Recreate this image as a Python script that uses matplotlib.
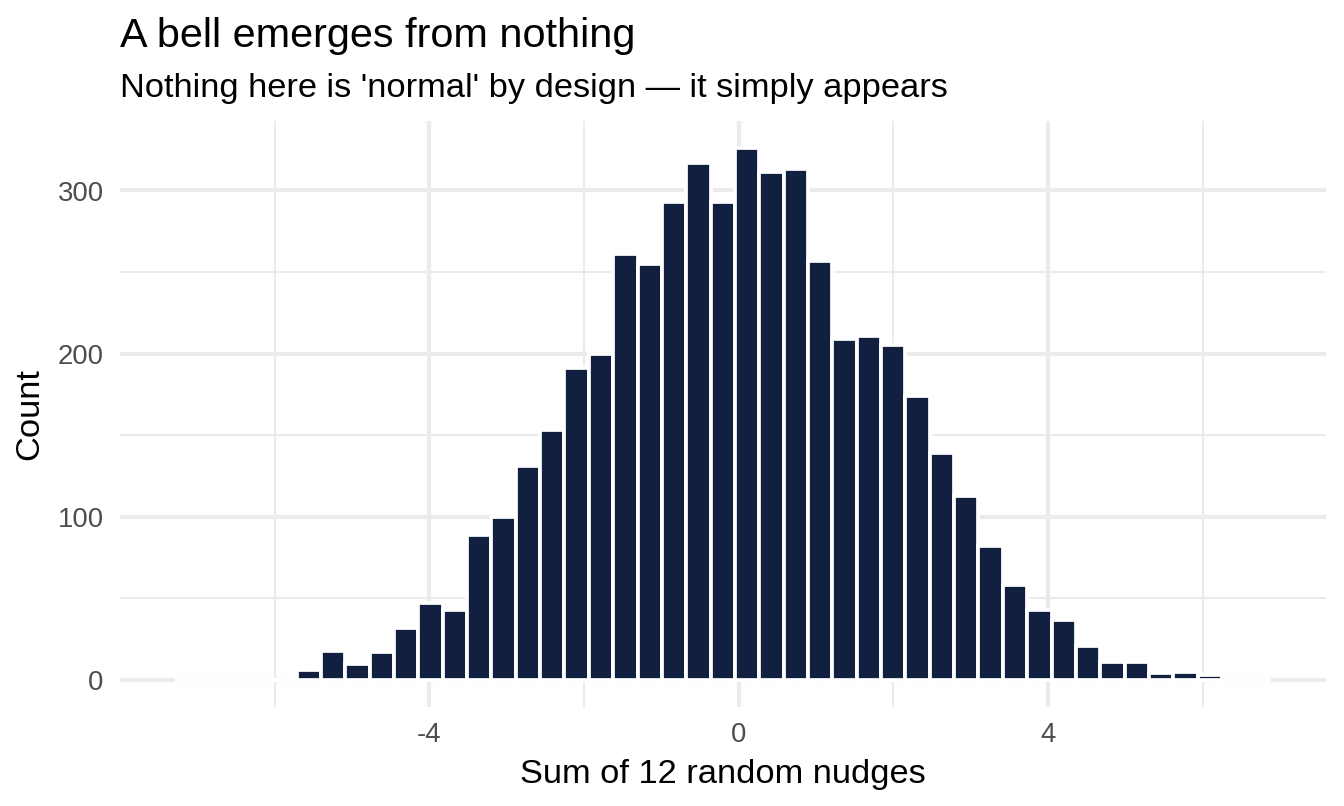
import numpy as np
import matplotlib
matplotlib.use("Agg")
import matplotlib.pyplot as plt
from matplotlib.ticker import MultipleLocator

plt.rcParams['font.family'] = ['Liberation Sans', 'DejaVu Sans']

# ---- data ----
bin_start = -7.29
bin_width = 0.3148
counts = [0, 0, 0, 0, 0,
          6, 18, 10, 17, 32, 47, 43, 89, 100, 131,
          153, 191, 200, 261, 255, 293, 317, 293, 326, 311,
          313, 257, 209, 211, 205, 174, 139, 113, 82, 58,
          43, 37, 21, 11, 11, 4, 5, 3,
          0, 0]
title = "A bell emerges from nothing"
subtitle = "Nothing here is 'normal' by design \u2014 it simply appears"
x_label = "Sum of 12 random nudges"
y_label = "Count"

counts = np.array(counts)
edges = bin_start + bin_width * np.arange(len(counts) + 1)

W, H = 1344, 806
fig = plt.figure(figsize=(7, 4.2), dpi=192)
left, right = 120 / W, 1325.5 / W
bottom, top = 1 - 706.6 / H, 1 - 121.7 / H
ax = fig.add_axes([left, bottom, right - left, top - bottom])

ax.bar(edges[:-1], counts, width=bin_width, align='edge',
       color='#111F41', edgecolor='white', linewidth=1.4, zorder=2)

span = edges[-1] - edges[0]
ax.set_xlim(edges[0] - 0.05 * span, edges[-1] + 0.05 * span)
ax.set_ylim(-0.05 * counts.max(), 1.05 * counts.max())

ax.xaxis.set_major_locator(MultipleLocator(4))
ax.xaxis.set_minor_locator(MultipleLocator(2))
ax.yaxis.set_major_locator(MultipleLocator(100))
ax.yaxis.set_minor_locator(MultipleLocator(50))

ax.set_axisbelow(True)
ax.grid(which='major', color='#EBEBEB', linewidth=1.55)
ax.grid(which='minor', color='#EBEBEB', linewidth=0.78)
for s in ax.spines.values():
    s.set_visible(False)

ax.tick_params(which='both', length=0)
ax.tick_params(axis='x', pad=5.8, labelsize=10.3, labelcolor='#4D4D4D')
ax.tick_params(axis='y', pad=6.1, labelsize=10.3, labelcolor='#4D4D4D')
ax.set_xticklabels([f"{int(t)}" for t in ax.get_xticks()])

ax.set_xlabel(x_label, fontsize=12.9, color='black')
ax.xaxis.label.set_va('baseline')
ax.xaxis.set_label_coords(0.5, (706.6 - 782.3) / 584.9)
ax.set_ylabel(y_label, fontsize=12.9, color='black')
ax.yaxis.label.set_va('center')
ax.yaxis.set_label_coords((29.5 - 120) / 1205.5, 0.5)

fig.text(120.5 / W, 1 - 46.7 / H, title, fontsize=15.5, ha='left', va='baseline', color='black')
fig.text(120.5 / W, 1 - 97.3 / H, subtitle, fontsize=12.9, ha='left', va='baseline', color='black')

fig.savefig("out.png", dpi=192, facecolor='white')
